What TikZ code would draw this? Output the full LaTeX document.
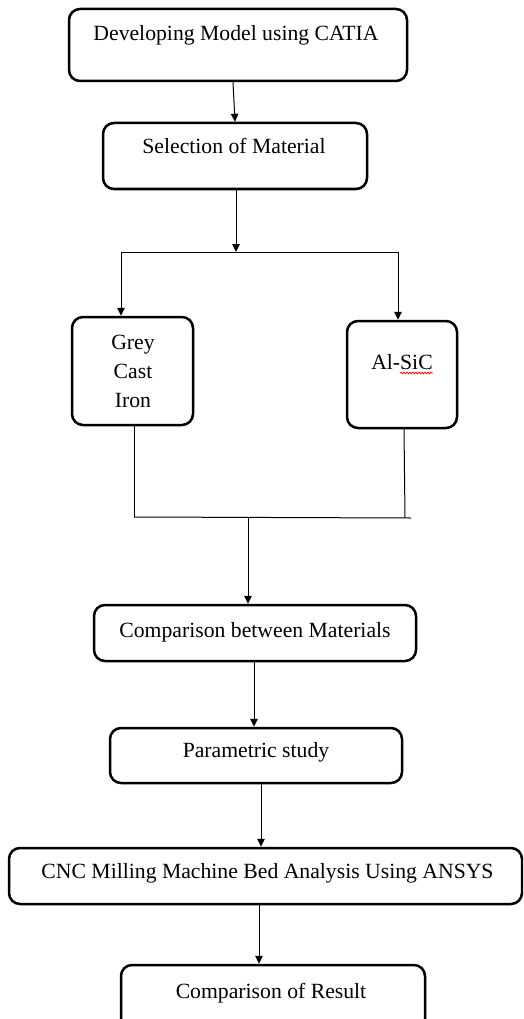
\documentclass[tikz,border=0pt]{standalone}
\usepackage{fontspec}
\setmainfont{Liberation Serif}
\usetikzlibrary{arrows.meta,decorations.pathmorphing}
\begin{document}
\begin{tikzpicture}[x=1pt,y=-1pt,
  box/.style={draw=black, line width=2.5pt, rounded corners=11pt, inner sep=0pt},
  txt/.style={anchor=base, inner sep=0pt, font=\fontsize{21.7}{26}\selectfont},
  conn/.style={draw=black, line width=1pt},
  arr/.style={conn, -{Triangle[length=8pt,width=7.5pt]}}]
\useasboundingbox (0,0) rectangle (523,1019);
\clip (0,0) rectangle (523,1019);
% boxes
\node[box, minimum width=338pt, minimum height=72pt] (b1) at (238,45) {};
\node[box, minimum width=264pt, minimum height=66pt] (b2) at (235,156) {};
\node[box, minimum width=121pt, minimum height=108pt] (gci) at (132.5,371) {};
\node[box, minimum width=110pt, minimum height=107pt] (als) at (402,374.5) {};
\node[box, minimum width=322pt, minimum height=56pt] (b4) at (255,633) {};
\node[box, minimum width=292pt, minimum height=55pt] (b5) at (256,755.5) {};
\node[box, minimum width=513pt, minimum height=56pt] (b6) at (265.5,876) {};
\node[box, minimum width=304pt, minimum height=65pt] (b7) at (273,997.5) {};
% texts
\node[txt] (t1) at (236,41) {Developing Model using CATIA};
\node[txt] (t2) at (234,154) {Selection of Material};
\node[txt] (t3a) at (133,349) {Grey};
\node[txt] (t3b) at (133,378) {Cast};
\node[txt] (t3c) at (133,407) {Iron};
\node[txt] (t4) at (402,369) {Al-SiC};
\node[txt] (t5) at (255,637) {Comparison between Materials};
\node[txt] (t6) at (256,757) {Parametric study};
\node[txt] (t7) at (267.5,878) {CNC Milling Machine Bed Analysis Using ANSYS};
\node[txt] (t8) at (271,998) {Comparison of Result};
% spell-check squiggle
\coordinate (sqA) at (400,373);
\coordinate (sqB) at (433,373);
\draw[red, line width=0.7pt, decorate, decoration={snake, amplitude=0.9pt, segment length=3pt}] (sqA) -- (sqB);
% connectors
\draw[arr] (b1.south -| 233,0) -- (b2.north -| 235,0);
\coordinate (splitL) at (121,252);
\coordinate (splitR) at (398,252);
\coordinate (splitM) at (236,252);
\draw[arr] (b2.south -| 236,0) -- (splitM);
\draw[conn] (splitL) -- (splitR);
\draw[arr] (splitL) -- (gci.north -| splitL);
\draw[arr] (splitR) -- (als.north -| splitR);
\coordinate (joinL) at (134,517);
\coordinate (joinR) at (405,517.5);
\coordinate (joinE) at (411,518);
\coordinate (joinM) at (248,517.5);
\draw[conn] (gci.south -| joinL) -- (joinL);
\draw[conn] (als.south -| 404,0) -- (joinR);
\draw[conn] (joinL) -- (joinE);
\draw[arr] (joinM) -- (b4.north -| joinM);
\draw[arr] (b4.south -| 254,0) -- (b5.north -| 254,0);
\draw[arr] (b5.south -| 261,0) -- (b6.north -| 261,0);
\draw[arr] (b6.south -| 259,0) -- (b7.north -| 259,0);
\end{tikzpicture}
\end{document}
